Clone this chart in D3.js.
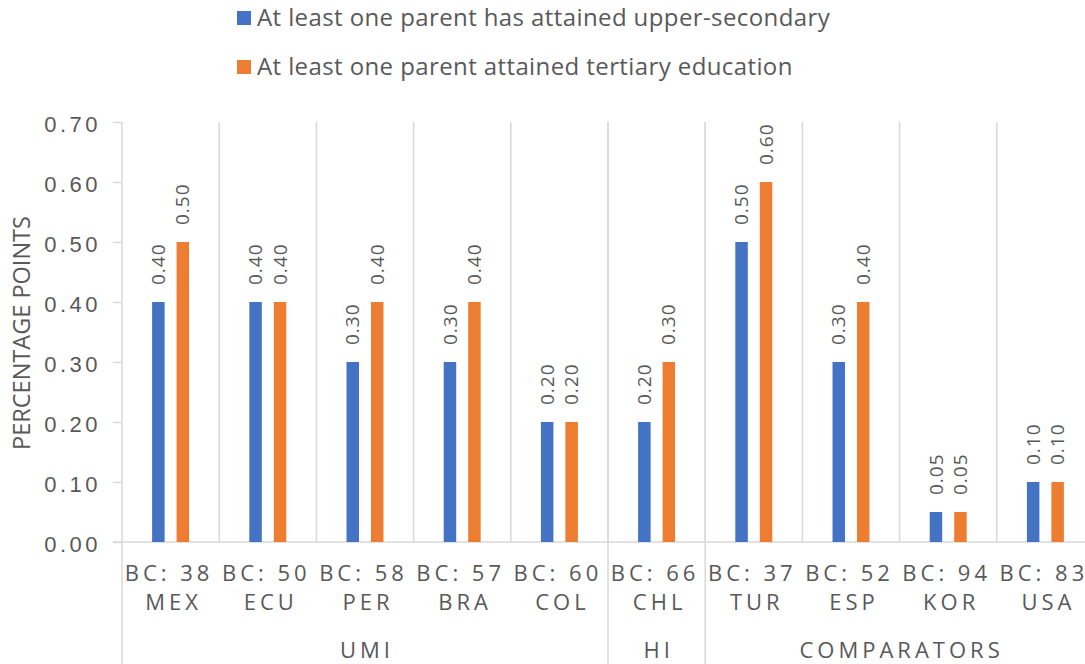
<!DOCTYPE html>
<html>
<head>
<meta charset="utf-8">
<script src="https://cdn.jsdelivr.net/npm/d3@7"></script>
<style>
  body { margin: 0; background: #fff; }
  svg { font-family: "Open Sans", sans-serif; }
</style>
</head>
<body>
<div class="canvas"></div>
<script>
// chart data
const countries = ["MEX", "ECU", "PER", "BRA", "COL", "CHL", "TUR", "ESP", "KOR", "USA"];
const bcValues = ["38", "50", "58", "57", "60", "66", "37", "52", "94", "83"];
const groupNames = ["UMI", "HI", "COMPARATORS"];
const groupSizes = [5, 1, 4];
const upperSecondary = [0.40, 0.40, 0.30, 0.30, 0.20, 0.20, 0.50, 0.30, 0.05, 0.10];
const tertiary = [0.50, 0.40, 0.40, 0.40, 0.20, 0.30, 0.60, 0.40, 0.05, 0.10];
const seriesNames = ["At least one parent has attained upper-secondary", "At least one parent attained tertiary education"];
const yTicks = [0, 0.1, 0.2, 0.3, 0.4, 0.5, 0.6, 0.7];

// sizes
const w = 1085;
const h = 664;
const plot = { left: 122, right: 1094, top: 122, bottom: 542 };
const colors = ["#4472C4", "#ED7D31"];
const textColor = "#595959";
const gridColor = "#d9d9d9";

const svg = d3.select(".canvas").append("svg").attr("width", w).attr("height", h);

const x0 = d3.scaleBand().domain(countries).range([plot.left, plot.right]);
const x1 = d3.scaleBand().domain([0, 1]).range([0, x0.bandwidth()]).paddingInner(0.49).paddingOuter(1.23);
const y = d3.scaleLinear().domain([0, 0.7]).range([plot.bottom, plot.top]);

// vertical gridlines between categories
svg.append("g")
  .selectAll("line")
  .data(countries.slice(1))
  .join("line")
  .attr("x1", (d) => x0(d))
  .attr("x2", (d) => x0(d))
  .attr("y1", plot.top)
  .attr("y2", plot.bottom)
  .attr("stroke", gridColor)
  .attr("stroke-width", 1.5);

// group dividers run down through the label area
let start = 0;
const groups = groupNames.map((name, i) => {
  const g = { name, first: countries[start], last: countries[start + groupSizes[i] - 1] };
  start += groupSizes[i];
  return g;
});

svg.append("g")
  .selectAll("line")
  .data(groups)
  .join("line")
  .attr("x1", (d) => x0(d.first))
  .attr("x2", (d) => x0(d.first))
  .attr("y1", plot.top)
  .attr("y2", h)
  .attr("stroke", gridColor)
  .attr("stroke-width", 1.5);

// y axis
const yAxis = svg.append("g")
  .attr("transform", `translate(${plot.left}, 0)`)
  .call(d3.axisLeft(y).tickValues(yTicks).tickFormat(d3.format(".2f")).tickSize(9).tickPadding(12));
yAxis.select(".domain").remove();
yAxis.selectAll(".tick line").attr("stroke", gridColor).attr("stroke-width", 1.5);
yAxis.selectAll(".tick text")
  .attr("fill", textColor)
  .style("font-size", "22px")
  .style("letter-spacing", "3.5px")
  .attr("dy", "0.45em");

// x axis line
svg.append("line")
  .attr("x1", plot.left - 9)
  .attr("x2", w)
  .attr("y1", y(0))
  .attr("y2", y(0))
  .attr("stroke", gridColor)
  .attr("stroke-width", 1.5);

// y axis title
svg.append("text")
  .attr("transform", `translate(30, 333) rotate(-90)`)
  .attr("text-anchor", "middle")
  .attr("fill", textColor)
  .style("font-size", "23.5px")
  .text("PERCENTAGE POINTS");

// bars
const rows = countries.map((c, i) => ({ country: c, values: [upperSecondary[i], tertiary[i]] }));

const cat = svg.append("g")
  .selectAll("g")
  .data(rows)
  .join("g")
  .attr("transform", (d) => `translate(${x0(d.country)}, 0)`);

cat.selectAll("rect")
  .data((d) => d.values.map((v, k) => ({ k, v })))
  .join("rect")
  .attr("x", (d) => x1(d.k))
  .attr("width", x1.bandwidth())
  .attr("y", (d) => y(d.v))
  .attr("height", (d) => y(0) - y(d.v))
  .attr("fill", (d) => colors[d.k]);

// rotated value labels
cat.selectAll("text")
  .data((d) => d.values.map((v, k) => ({ k, v })))
  .join("text")
  .attr("transform", (d) => `translate(${x1(d.k) + x1.bandwidth() / 2}, ${y(d.v) - 17}) rotate(-90)`)
  .attr("dy", "0.35em")
  .attr("fill", textColor)
  .style("font-size", "19px")
  .style("letter-spacing", "1px")
  .text((d) => d.v.toFixed(2));

// spread text out without a trailing gap: measure, then stretch with textLength
const ls = 4;
function spaced(sel) {
  sel.each(function () {
    const n = this.textContent.length;
    const len = this.getComputedTextLength();
    d3.select(this).attr("textLength", len + (n - 1) * ls).attr("lengthAdjust", "spacing");
  });
}

// category labels (two lines, first line sits a little left like the wrapped original)
const xl = svg.append("g")
  .selectAll("g")
  .data(countries)
  .join("g")
  .attr("transform", (d) => `translate(${x0(d) + x0.bandwidth() / 2}, 0)`);

xl.append("text")
  .attr("x", -3.5)
  .attr("y", 581)
  .attr("text-anchor", "middle")
  .attr("fill", textColor)
  .style("font-size", "22px")
  .text((d, i) => `BC: ${bcValues[i]}`)
  .call(spaced);

xl.append("text")
  .attr("x", 1)
  .attr("y", 610)
  .attr("text-anchor", "middle")
  .attr("fill", textColor)
  .style("font-size", "22px")
  .text((d) => d)
  .call(spaced);

// group labels
svg.append("g")
  .selectAll("text")
  .data(groups)
  .join("text")
  .attr("x", (d) => (x0(d.first) + x0(d.last) + x0.bandwidth()) / 2)
  .attr("y", 658)
  .attr("text-anchor", "middle")
  .attr("fill", textColor)
  .style("font-size", "22px")
  .text((d) => d.name)
  .call(spaced);

// legend
const legend = svg.append("g")
  .selectAll("g")
  .data(seriesNames)
  .join("g")
  .attr("transform", (d, i) => `translate(237, ${11 + i * 49})`);

legend.append("rect")
  .attr("width", 14)
  .attr("height", 14)
  .attr("fill", (d, i) => colors[i]);

legend.append("text")
  .attr("x", 20)
  .attr("y", 15)
  .attr("fill", textColor)
  .style("font-size", "24px")
  .style("letter-spacing", "0.4px")
  .text((d) => d);
</script>
</body>
</html>
